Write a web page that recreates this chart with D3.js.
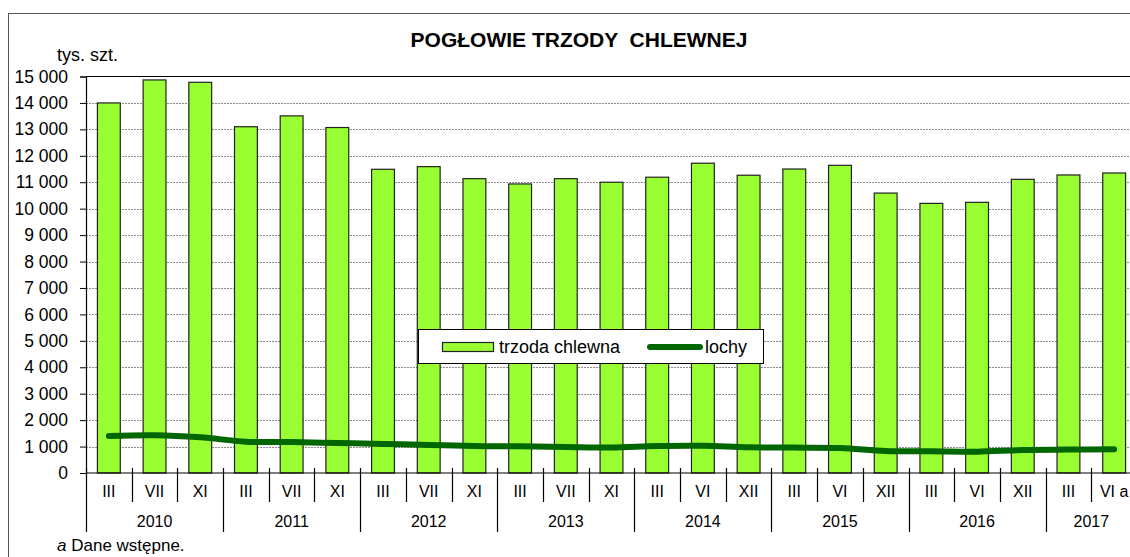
<!DOCTYPE html>
<html>
<head>
<meta charset="utf-8">
<script src="https://cdn.jsdelivr.net/npm/d3@7"></script>
<style>
  body { margin: 0; background: #fff; }
  svg { display: block; font-family: Arial, 'Liberation Sans', sans-serif; }
</style>
</head>
<body>
<div id="chart"></div>
<script>
const years = ['2010', '2011', '2012', '2013', '2014', '2015', '2016', '2017'];
const monthsByYear = [
  ['III', 'VII', 'XI'], ['III', 'VII', 'XI'], ['III', 'VII', 'XI'], ['III', 'VII', 'XI'],
  ['III', 'VI', 'XII'], ['III', 'VI', 'XII'], ['III', 'VI', 'XII'], ['III', 'VI a']
];
// tys. szt.
const trzoda = [14000, 14870, 14780, 13100, 13510, 13070, 11490, 11590, 11135, 10935, 11135, 11000,
  11190, 11720, 11265, 11500, 11640, 10590, 10200, 10240, 11110, 11275, 11350];
const lochy = [1400, 1430, 1350, 1185, 1170, 1135, 1100, 1060, 1020, 1010, 985, 965,
  1020, 1030, 970, 960, 945, 830, 820, 805, 870, 885, 895];
const yTicks = d3.range(0, 15001, 1000);

const W = 1130, H = 557;
const plotL = 86, plotR = 1137, plotT = 76.5, plotB = 473;
const font = "Arial, 'Liberation Sans', sans-serif";

const categories = monthsByYear.flatMap((ms, yi) => ms.map(m => ({ month: m, year: years[yi] })));

const svg = d3.select('#chart').append('svg').attr('width', W).attr('height', H);

// outer frame
svg.append('rect').attr('x', 8.5).attr('y', 13.5).attr('width', W).attr('height', H)
  .attr('fill', 'none').attr('stroke', '#555');

const x = d3.scaleBand().domain(d3.range(categories.length)).range([plotL, plotR]).padding(0);
const y = d3.scaleLinear().domain([0, 15000]).range([plotB, plotT]);
const bw = x.bandwidth();
const cx = i => x(i) + bw / 2;

// gridlines
svg.append('g').selectAll('line')
  .data(yTicks.filter(v => v > 0 && v < 15000)).join('line')
    .attr('x1', plotL).attr('x2', plotR)
    .attr('y1', d => Math.round(y(d)) + 0.5).attr('y2', d => Math.round(y(d)) + 0.5)
    .attr('stroke', '#8a8a8a').attr('stroke-width', 1).attr('stroke-dasharray', '2,1');

// top frame of plot area
svg.append('line').attr('x1', plotL).attr('x2', W).attr('y1', plotT).attr('y2', plotT)
  .attr('stroke', '#000').attr('stroke-width', 1.2);

// bars
svg.append('g').selectAll('rect')
  .data(trzoda).join('rect')
    .attr('x', (d, i) => x(i) + bw * 0.25)
    .attr('width', bw * 0.5)
    .attr('y', d => y(d))
    .attr('height', d => plotB - y(d))
    .attr('fill', '#99ff33').attr('stroke', '#222').attr('stroke-width', 1.2);

// lochy line
svg.append('path').datum(lochy)
  .attr('d', d3.line().x((d, i) => cx(i)).y(d => y(d)).curve(d3.curveCatmullRom))
  .attr('fill', 'none').attr('stroke', '#006600').attr('stroke-width', 6)
  .attr('stroke-linecap', 'round').attr('stroke-linejoin', 'round');

// y axis
const locale = d3.formatLocale({ decimal: ',', thousands: ' ', grouping: [3], currency: ['', ''] });
const yAxis = svg.append('g').attr('transform', `translate(${plotL},0)`)
  .call(d3.axisLeft(y).tickValues(yTicks).tickFormat(locale.format(',')).tickSize(6).tickPadding(12));
yAxis.select('.domain').attr('stroke', '#000').attr('stroke-width', 1.2);
yAxis.selectAll('.tick line').attr('stroke', '#000');
yAxis.selectAll('text').attr('font-size', 17.5).attr('font-family', font).attr('fill', '#000');

// x axis
const xg = svg.append('g');
xg.append('line').attr('x1', plotL).attr('x2', W).attr('y1', plotB).attr('y2', plotB)
  .attr('stroke', '#000').attr('stroke-width', 1.2);

let start = 0;
const yearSpans = years.map((yr, yi) => {
  const s = { year: yr, first: start, last: start + monthsByYear[yi].length - 1 };
  start += monthsByYear[yi].length;
  return s;
});
const yearStarts = new Set(yearSpans.map(s => s.first));

// separators
xg.selectAll('line.sep')
  .data(d3.range(categories.length)).join('line').attr('class', 'sep')
    .attr('x1', i => Math.round(x(i)) + 0.5).attr('x2', i => Math.round(x(i)) + 0.5)
    .attr('y1', plotB - 5)
    .attr('y2', i => yearStarts.has(i) ? 532 : 502)
    .attr('stroke', '#000').attr('stroke-width', 1.2);

xg.selectAll('text.month')
  .data(categories).join('text').attr('class', 'month')
    .attr('x', (d, i) => cx(i)).attr('y', 497)
    .attr('text-anchor', 'middle').attr('font-size', 16).attr('font-family', font)
    .text(d => d.month);

xg.selectAll('text.year')
  .data(yearSpans).join('text').attr('class', 'year')
    .attr('x', d => (x(d.first) + x(d.last) + bw) / 2).attr('y', 527)
    .attr('text-anchor', 'middle').attr('font-size', 16).attr('font-family', font)
    .text(d => d.year);

// title and unit
svg.append('text').attr('x', 579).attr('y', 47).attr('text-anchor', 'middle')
  .attr('font-size', 21).attr('font-weight', 'bold').attr('font-family', font)
  .style('white-space', 'pre')
  .text('POGŁOWIE TRZODY  CHLEWNEJ');

svg.append('text').attr('x', 57).attr('y', 61)
  .attr('font-size', 18).attr('font-family', font).text('tys. szt.');

// footnote
const fn = svg.append('text').attr('x', 57).attr('y', 551)
  .attr('font-size', 17).attr('font-family', font);
fn.append('tspan').attr('font-style', 'italic').text('a');
fn.append('tspan').text(' Dane wstępne.');

// legend
const lg = svg.append('g');
lg.append('rect').attr('x', 418.5).attr('y', 329.5).attr('width', 345).attr('height', 34)
  .attr('fill', '#fff').attr('stroke', '#000');
lg.append('rect').attr('x', 442.5).attr('y', 342.5).attr('width', 51).attr('height', 9)
  .attr('fill', '#99ff33').attr('stroke', '#222').attr('stroke-width', 1.2);
lg.append('text').attr('x', 499).attr('y', 353).attr('font-size', 18).attr('font-family', font)
  .text('trzoda chlewna');
lg.append('line').attr('x1', 650).attr('x2', 700).attr('y1', 347).attr('y2', 347)
  .attr('stroke', '#006600').attr('stroke-width', 6).attr('stroke-linecap', 'round');
lg.append('text').attr('x', 705).attr('y', 353).attr('font-size', 18).attr('font-family', font)
  .text('lochy');
</script>
</body>
</html>
